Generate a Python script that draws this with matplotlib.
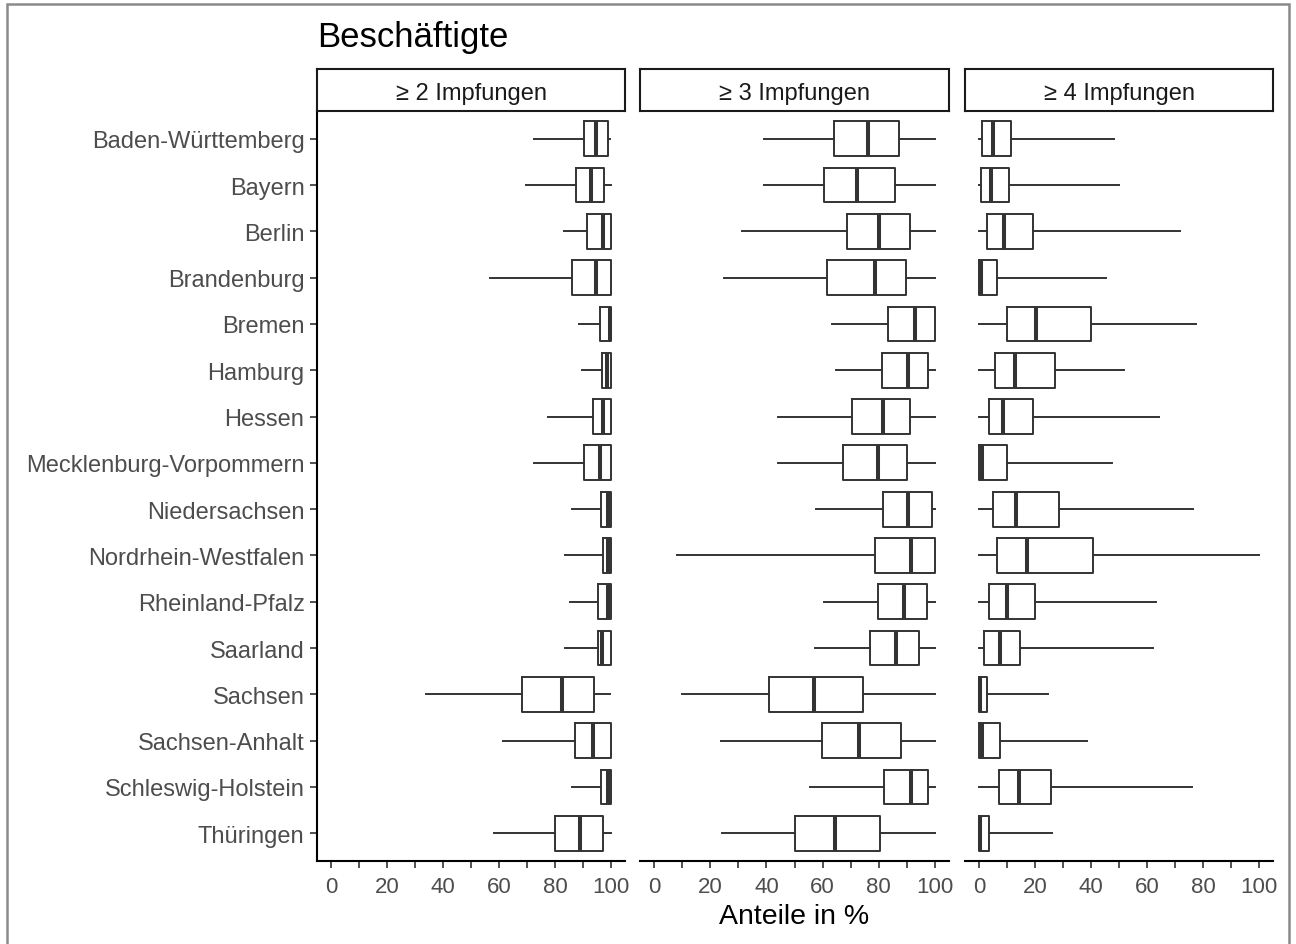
import matplotlib
matplotlib.use("Agg")
import matplotlib.pyplot as plt
from matplotlib.patches import Rectangle
from matplotlib.ticker import FixedLocator, NullFormatter

plt.rcParams['font.family'] = ['Liberation Sans', 'DejaVu Sans']

# ---------------------------------------------------------------- data
states = ["Baden-Württemberg", "Bayern", "Berlin", "Brandenburg", "Bremen",
          "Hamburg", "Hessen", "Mecklenburg-Vorpommern", "Niedersachsen",
          "Nordrhein-Westfalen", "Rheinland-Pfalz", "Saarland", "Sachsen",
          "Sachsen-Anhalt", "Schleswig-Holstein", "Thüringen"]
panels = ["≥ 2 Impfungen", "≥ 3 Impfungen", "≥ 4 Impfungen"]

# >= 2 Impfungen
lo2 = [72.5, 69.5, 83.3, 56.9, 88.4, 89.6, 77.4, 72.5, 86.0, 83.7, 85.5, 83.7, 33.8, 61.5, 86.0, 58.3]
q1_2 = [90.2, 87.5, 91.4, 86.0, 95.9, 96.7, 93.7, 90.2, 96.5, 97.3, 95.3, 95.2, 68.3, 87.2, 96.5, 80.1]
med2 = [94.7, 92.9, 97.0, 94.7, 99.5, 98.5, 97.3, 96.1, 99.0, 99.0, 99.0, 96.7, 82.5, 93.7, 99.0, 88.9]
q3_2 = [98.8, 97.5, 100, 100, 100, 100, 100, 100, 100, 100, 100, 100, 94.0, 100, 100, 97.3]
hi2 = [99.6, 100, 100, 100, 100, 100, 100, 100, 100, 100, 100, 100, 99.6, 100, 100, 100]

# >= 3 Impfungen
lo3 = [39.0, 39.0, 31.4, 24.9, 63.3, 64.7, 44.2, 44.2, 57.8, 8.0, 60.6, 57.4, 10.1, 23.7, 55.6, 24.3]
q1_3 = [64.1, 60.6, 68.6, 61.5, 83.4, 81.3, 70.6, 67.1, 81.6, 78.5, 79.9, 76.9, 40.8, 59.8, 82.0, 50.1]
med3 = [76.3, 72.4, 80.2, 78.5, 92.9, 90.5, 81.6, 79.9, 90.5, 91.5, 88.9, 86.2, 57.0, 72.8, 91.5, 64.5]
q3_3 = [87.3, 85.8, 91.1, 89.6, 100, 97.6, 91.1, 90.2, 99.0, 100, 97.1, 94.3, 74.3, 87.8, 97.6, 80.5]
hi3 = [100, 100, 100, 100, 100, 100, 100, 100, 100, 100, 100, 100, 100, 100, 100, 100]

# >= 4 Impfungen
lo4 = [0, 0, 0, 0, 0, 0, 0, 0, 0, 0, 0, 0, 0, 0, 0, 0]
q1_4 = [1.0, 0.8, 2.7, 0, 9.9, 5.7, 3.6, 0, 5.0, 6.3, 3.6, 1.8, 0, 0, 7.1, 0]
med4 = [5.1, 4.2, 8.9, 0.6, 20.2, 12.9, 8.7, 0.9, 13.3, 17.0, 10.1, 7.5, 0.3, 0.9, 14.3, 0.3]
q3_4 = [11.6, 10.7, 19.3, 6.3, 39.9, 27.0, 19.4, 10.1, 28.6, 40.8, 19.9, 14.5, 3.0, 7.4, 25.6, 3.4]
hi4 = [48.2, 50.0, 71.8, 45.2, 77.6, 51.8, 64.3, 47.6, 76.4, 100, 63.1, 62.1, 24.8, 38.7, 75.9, 25.9]

panel_data = [(lo2, q1_2, med2, q3_2, hi2),
              (lo3, q1_3, med3, q3_3, hi3),
              (lo4, q1_4, med4, q3_4, hi4)]

# ---------------------------------------------------------------- layout
W, H = 1296, 945
fig = plt.figure(figsize=(W / 100, H / 100), dpi=100)

def fx(px):
    return px / W

def fy(py):
    return 1 - py / H

panel_x = [(317, 625), (640, 949), (965, 1273)]
top, bottom = 112, 862
strip_top = 70

TICKCOL = "#4D4D4D"
BOXCOL = "#333333"
n = len(states)
pos = list(range(1, n + 1))

for i, (x0, x1) in enumerate(panel_x):
    ax = fig.add_axes([fx(x0), fy(bottom), fx(x1 - x0), (bottom - top) / H])
    lo, q1, med, q3, hi = panel_data[i]
    stats = [dict(whislo=lo[k], q1=q1[k], med=med[k], q3=q3[k], whishi=hi[k], fliers=[])
             for k in range(n)]
    ax.bxp(stats, positions=pos, vert=False, widths=0.75, showcaps=False,
           boxprops=dict(color=BOXCOL, linewidth=1.4),
           whiskerprops=dict(color=BOXCOL, linewidth=1.4),
           medianprops=dict(color=BOXCOL, linewidth=2.9, solid_capstyle='butt'))
    ax.set_xlim(-5, 105)
    ax.set_ylim(n + 0.6, 0.4)

    ax.xaxis.set_major_locator(FixedLocator([0, 20, 40, 60, 80, 100]))
    ax.xaxis.set_minor_locator(FixedLocator([10, 30, 50, 70, 90]))
    ax.xaxis.set_minor_formatter(NullFormatter())
    ax.set_xticklabels(["0", "20", "40", "60", "80", "100"])
    ax.tick_params(axis='x', which='both', length=5, width=1.2, color="#333333",
                   labelsize=16, labelcolor=TICKCOL, pad=6)

    for s in ["top", "right"]:
        ax.spines[s].set_visible(False)
    ax.spines["bottom"].set_linewidth(1.5)
    if i == 0:
        ax.spines["left"].set_linewidth(1.5)
        ax.set_yticks(pos)
        ax.set_yticklabels(states)
        ax.tick_params(axis='y', length=5, width=1.2, color="#333333",
                       labelsize=17, labelcolor=TICKCOL, pad=4)
    else:
        ax.spines["left"].set_visible(False)
        ax.set_yticks([])

    # strip
    sax = fig.add_axes([fx(x0), fy(top), fx(x1 - x0), (top - strip_top) / H])
    sax.set_xticks([])
    sax.set_yticks([])
    for s in sax.spines.values():
        s.set_linewidth(1.5)
        s.set_color("#1a1a1a")
    sax.text(0.5, 0.44, panels[i], ha='center', va='center', fontsize=17,
             color="#1a1a1a", transform=sax.transAxes)

fig.text(fx(317), fy(37), "Beschäftigte", ha='left', va='center', fontsize=25, color="black")
fig.text(fx(794), fy(917), "Anteile in %", ha='center', va='center', fontsize=20.5, color="black")

# outer frame
fig.patches.append(Rectangle((fx(7), -0.02), fx(1289 - 7), fy(5) + 0.02,
                             transform=fig.transFigure, fill=False,
                             edgecolor="#8a8a8a", linewidth=1.8))

fig.savefig("out.png", dpi=100)
